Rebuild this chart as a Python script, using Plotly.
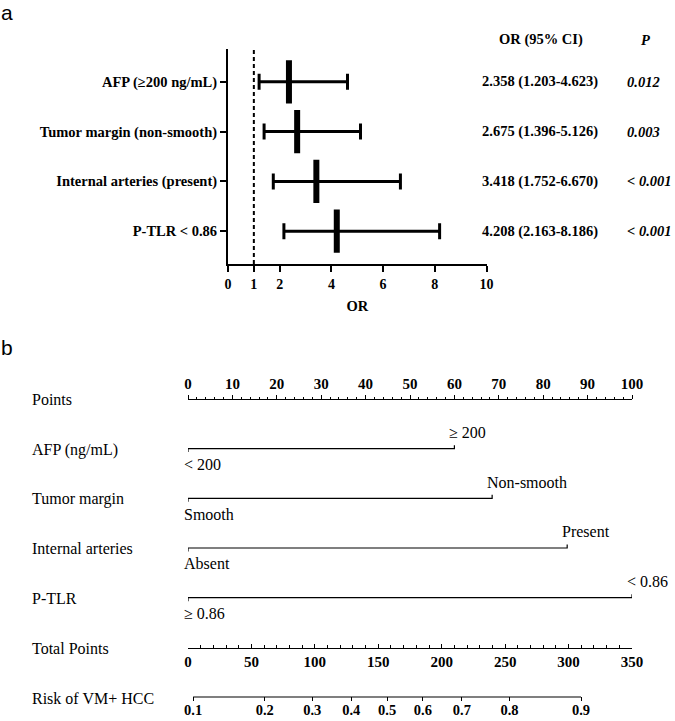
import numpy as np
import plotly.graph_objects as go

# ---------------- Panel a data (forest plot) ----------------
fp_labels = ["AFP (≥200 ng/mL)", "Tumor margin (non-smooth)",
             "Internal arteries (present)", "P-TLR < 0.86"]
fp_or = [2.358, 2.675, 3.418, 4.208]
fp_lo = [1.203, 1.396, 1.752, 2.163]
fp_hi = [4.623, 5.126, 6.670, 8.186]
fp_ci_text = ["2.358 (1.203-4.623)", "2.675 (1.396-5.126)",
              "3.418 (1.752-6.670)", "4.208 (2.163-8.186)"]
fp_p_text = ["0.012", "0.003", "< 0.001", "< 0.001"]
fp_xticks = [0, 1, 2, 4, 6, 8, 10]

# ---------------- Panel b data (nomogram) ----------------
nomo_rows = ["Points", "AFP (ng/mL)", "Tumor margin", "Internal arteries",
             "P-TLR", "Total Points", "Risk of VM+ HCC"]
var_points = [60, 68.5, 85.4, 100]          # points for the risk level
var_low_labels = ["< 200", "Smooth", "Absent", "≥ 0.86"]
var_high_labels = ["≥ 200", "Non-smooth", "Present", "< 0.86"]
points_ticks = list(range(0, 101, 10))
total_ticks = list(range(0, 351, 50))
risk_ticks = [0.1, 0.2, 0.3, 0.4, 0.5, 0.6, 0.7, 0.8, 0.9]
risk_tick_text = ["0.1", "0.2", "0.3", "0.4", "0.5", "0.6", "0.7", "0.8", "0.9"]
lp_intercept = -2.255     # linear predictor at 0 total points
lp_per_point = 0.01437    # linear predictor per total point

risk_tp = [(np.log(p / (1 - p)) - lp_intercept) / lp_per_point for p in risk_ticks]

W, H = 675, 721
SERIF = "Liberation Serif"
BLACK = "#000000"


def py(px):
    return 1 - px / H


def pxx(px):
    return px / W


fig = go.Figure()

# ---------- Panel a ----------
fig.add_trace(go.Scatter(
    x=fp_or, y=list(range(len(fp_or))), mode="markers",
    marker=dict(symbol="line-ns", size=31, color=BLACK,
                line=dict(width=6, color=BLACK)),
    error_x=dict(type="data", symmetric=False,
                 array=[h - o for h, o in zip(fp_hi, fp_or)],
                 arrayminus=[o - l for o, l in zip(fp_or, fp_lo)],
                 thickness=3, width=8, color=BLACK),
    xaxis="x", yaxis="y", showlegend=False, hoverinfo="skip"))

fig.add_shape(type="line", xref="x", yref="y domain", x0=1, x1=1, y0=0, y1=1,
              line=dict(color=BLACK, width=2, dash="4px,3px"))

boldA = dict(family=SERIF, size=14.5, color=BLACK, weight="bold")
fig.add_annotation(x=pxx(541), y=py(40), xref="paper", yref="paper",
                   text="OR (95% CI)", showarrow=False, font=boldA,
                   xanchor="center", yanchor="middle")
fig.add_annotation(x=pxx(645), y=py(40), xref="paper", yref="paper",
                   text="<i>P</i>", showarrow=False, font=boldA,
                   xanchor="center", yanchor="middle")
for i, (ci, p) in enumerate(zip(fp_ci_text, fp_p_text)):
    fig.add_annotation(x=pxx(540), y=i, xref="paper", yref="y", text=ci,
                       showarrow=False, font=boldA, xanchor="center",
                       yanchor="middle")
    fig.add_annotation(x=pxx(625), y=i, xref="paper", yref="y",
                       text="<i>" + p + "</i>", showarrow=False, font=boldA,
                       xanchor="left", yanchor="middle")

# ---------- Panel b ----------
for r, (pts, lo_lab, hi_lab) in enumerate(zip(var_points, var_low_labels,
                                               var_high_labels), start=1):
    d = 0.07
    fig.add_trace(go.Scatter(
        x=[0, 0, pts, pts], y=[r + d, r, r, r - d], mode="lines",
        line=dict(color=BLACK, width=1.2), xaxis="x2", yaxis="y2",
        showlegend=False, hoverinfo="skip"))
    fig.add_annotation(x=0, y=r, xref="x2", yref="y2", text=lo_lab,
                       showarrow=False, xanchor="left", yanchor="middle",
                       xshift=-6, yshift=-16,
                       font=dict(family=SERIF, size=16, color=BLACK))
    fig.add_annotation(x=pts, y=r, xref="x2", yref="y2", text=hi_lab,
                       showarrow=False, xanchor="left", yanchor="middle",
                       xshift=-7, yshift=16,
                       font=dict(family=SERIF, size=16, color=BLACK))

fig.add_trace(go.Scatter(
    x=[risk_tp[0], risk_tp[-1]], y=[6, 6], mode="lines",
    line=dict(color=BLACK, width=1.2), xaxis="x3", yaxis="y2",
    showlegend=False, hoverinfo="skip"))

for r, lab in enumerate(nomo_rows):
    fig.add_annotation(x=pxx(30), y=r, xref="paper", yref="y2", text=lab,
                       showarrow=False, xanchor="left", yanchor="middle",
                       yshift=-1,
                       font=dict(family=SERIF, size=16, color=BLACK))

fig.add_annotation(x=0, y=1, xref="paper", yref="paper", text="a",
                   showarrow=False, xanchor="left", yanchor="top", borderpad=0,
                   font=dict(family="Liberation Sans", size=21, color=BLACK))
fig.add_annotation(x=0, y=py(335), xref="paper", yref="paper", text="b",
                   showarrow=False, xanchor="left", yanchor="top", borderpad=0,
                   font=dict(family="Liberation Sans", size=21, color=BLACK))

nomo_dom = [pxx(188), pxx(632)]
tickfont_b = dict(family=SERIF, size=15, color=BLACK, weight="bold")

fig.update_layout(
    template="none",
    width=W, height=H, margin=dict(l=0, r=0, t=0, b=0, autoexpand=False),
    paper_bgcolor="white", plot_bgcolor="white",
    xaxis=dict(domain=[pxx(228), pxx(486.5)], range=[0, 10], anchor="y",
               automargin=False,
               tickvals=fp_xticks, ticks="outside", ticklen=6, tickwidth=2,
               tickcolor=BLACK, showline=True, linewidth=2, linecolor=BLACK,
               showgrid=False, zeroline=False,
               tickfont=dict(family=SERIF, size=14, color=BLACK, weight="bold"),
               title=dict(text="OR", standoff=10,
                          font=dict(family=SERIF, size=14.5, color=BLACK,
                                    weight="bold"))),
    yaxis=dict(domain=[py(264), py(49)], range=[3.66, -0.66], anchor="x",
               automargin=False,
               tickvals=list(range(len(fp_labels))), ticktext=fp_labels,
               ticks="outside", ticklen=6, tickwidth=2, tickcolor=BLACK,
               showline=True, linewidth=2, linecolor=BLACK,
               showgrid=False, zeroline=False,
               tickfont=dict(family=SERIF, size=14.5, color=BLACK, weight="bold")),
    yaxis2=dict(domain=[py(711.9), py(379.1)], range=[6.3, -0.4],
                anchor="x2", visible=False, automargin=False),
    xaxis2=dict(domain=nomo_dom, range=[0, 100], anchor="free",
                automargin=False,
                position=py(399), side="top", tickvals=points_ticks,
                ticks="outside", ticklen=4, tickwidth=1, tickcolor=BLACK,
                minor=dict(dtick=2, ticks="outside", ticklen=2, tickcolor=BLACK,
                           showgrid=False),
                showline=True, linewidth=1.2, linecolor=BLACK,
                showgrid=False, zeroline=False, tickfont=tickfont_b),
    xaxis3=dict(domain=nomo_dom, range=[0, 350], anchor="free",
                automargin=False,
                overlaying="x2", position=py(648), side="bottom",
                tickvals=total_ticks, ticks="inside", ticklen=4, tickwidth=1,
                tickcolor=BLACK,
                minor=dict(dtick=10, ticks="inside", ticklen=3, tickcolor=BLACK,
                           showgrid=False),
                showline=True, linewidth=1.2, linecolor=BLACK,
                showgrid=False, zeroline=False, tickfont=tickfont_b),
    xaxis4=dict(domain=nomo_dom, range=[0, 350], anchor="free",
                automargin=False,
                overlaying="x2", position=py(696), side="bottom",
                tickvals=risk_tp, ticktext=risk_tick_text, ticks="outside",
                ticklen=4, tickwidth=1, tickcolor=BLACK, showline=False,
                ticklabelstandoff=-3,
                showgrid=False, zeroline=False,
                tickfont=dict(family=SERIF, size=14.5, color=BLACK,
                              weight="bold")),
)

fig.add_trace(go.Scatter(x=[risk_tp[0]], y=[6], mode="markers",
                         marker=dict(opacity=0), xaxis="x4", yaxis="y2",
                         showlegend=False, hoverinfo="skip"))

fig.write_html("out.html")
